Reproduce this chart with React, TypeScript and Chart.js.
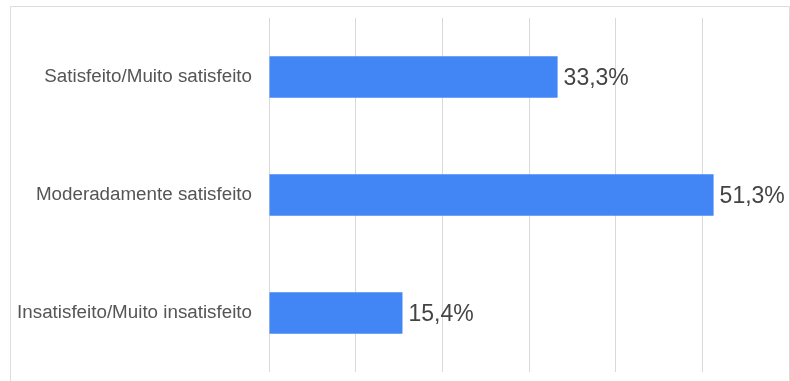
import React, { useEffect, useRef } from "react";
import { Chart, registerables } from "chart.js";

Chart.register(...registerables);

const categories = [
  "Satisfeito/Muito satisfeito",
  "Moderadamente satisfeito",
  "Insatisfeito/Muito insatisfeito",
];
const values = [33.3, 51.3, 15.4];
const axisMax = 60;
const axisStep = 10;

const FONT = "'Liberation Sans', Arial, Helvetica, sans-serif";

const fmt = (v: number) => v.toFixed(1).replace(".", ",") + "%";

const valueLabels = {
  id: "valueLabels",
  afterDatasetsDraw(chart: any) {
    const ctx = chart.ctx;
    const meta = chart.getDatasetMeta(0);
    ctx.save();
    ctx.font = `23px ${FONT}`;
    ctx.fillStyle = "#444444";
    ctx.textAlign = "left";
    ctx.textBaseline = "middle";
    meta.data.forEach((bar: any, i: number) => {
      ctx.fillText(fmt(values[i]), bar.x + 6, bar.y + 2);
    });
    ctx.restore();
  },
};

const frame = {
  id: "frame",
  beforeDraw(chart: any) {
    const ctx = chart.ctx;
    ctx.save();
    ctx.strokeStyle = "#dddddd";
    ctx.lineWidth = 1;
    ctx.beginPath();
    ctx.moveTo(10.5, chart.height + 5);
    ctx.lineTo(10.5, 6.5);
    ctx.lineTo(chart.width - 0.5, 6.5);
    ctx.lineTo(chart.width - 0.5, chart.height + 5);
    ctx.stroke();
    ctx.restore();
  },
};

export default function App() {
  const ref = useRef<HTMLCanvasElement | null>(null);
  useEffect(() => {
    document.body.style.margin = "0";
    const chart = new Chart(ref.current!, {
      type: "bar",
      data: {
        labels: categories,
        datasets: [
          {
            data: values,
            backgroundColor: "#4285F4",
            borderWidth: 0,
            categoryPercentage: 1,
            barPercentage: 0.35,
          },
        ],
      },
      options: {
        indexAxis: "y",
        animation: false,
        responsive: false,
        layout: { padding: { top: 18, bottom: 9, left: 0, right: 1 } },
        plugins: { legend: { display: false }, tooltip: { enabled: false } },
        scales: {
          x: {
            min: 0,
            max: axisMax,
            ticks: { display: false, stepSize: axisStep },
            grid: { color: "#d9d9d9", drawTicks: false },
            border: { display: false },
            afterFit(scale: any) {
              scale.height = 0;
              scale.paddingLeft = 0;
              scale.paddingRight = 0;
            },
          },
          y: {
            ticks: {
              color: "#555555",
              font: { family: FONT, size: 18.8 },
              padding: 17,
            },
            grid: { display: false, drawTicks: false },
            border: { display: false },
            afterFit(scale: any) {
              scale.width = 269;
              scale.paddingTop = 0;
              scale.paddingBottom = 0;
            },
          },
        },
      },
      plugins: [frame, valueLabels],
    });
    return () => chart.destroy();
  }, []);
  return (
    <div style={{ width: 790, height: 381, position: "relative" }}>
      <canvas ref={ref} width={790} height={381} style={{ display: "block" }} />
    </div>
  );
}
